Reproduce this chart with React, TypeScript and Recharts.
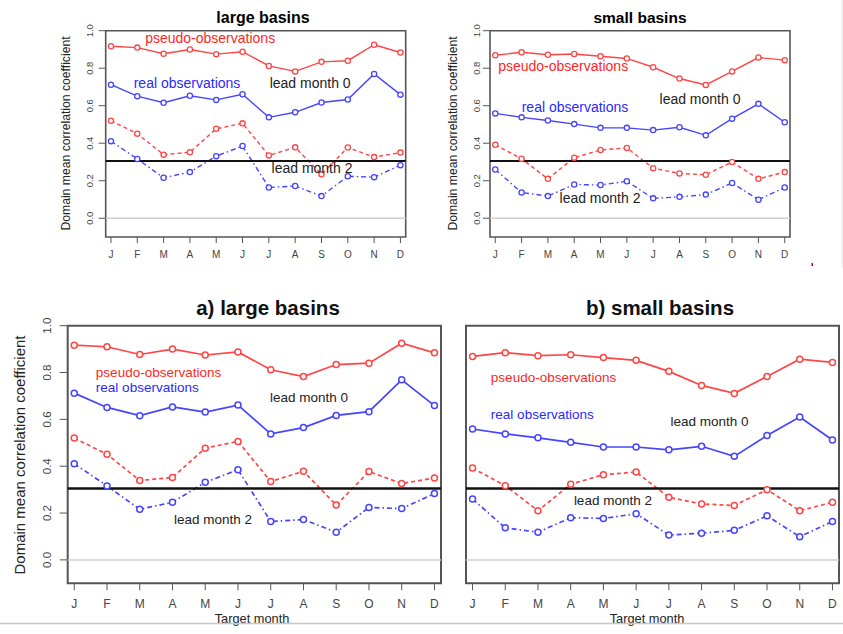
import React from "react";
import {
  LineChart,
  Line,
  XAxis,
  YAxis,
  ReferenceLine,
  ReferenceArea,
  ReferenceDot,
} from "recharts";

// ---------- data ----------
const monthLabels = ["J", "F", "M", "A", "M", "J", "J", "A", "S", "O", "N", "D"];
const monthIndex = [1, 2, 3, 4, 5, 6, 7, 8, 9, 10, 11, 12];
const yTicks = [0, 0.2, 0.4, 0.6, 0.8, 1.0];

const largePseudo0 = [0.917, 0.910, 0.877, 0.900, 0.875, 0.888, 0.812, 0.783, 0.834, 0.840, 0.925, 0.884];
const largeReal0 = [0.712, 0.651, 0.616, 0.653, 0.631, 0.661, 0.538, 0.565, 0.617, 0.633, 0.769, 0.659];
const largePseudo2 = [0.520, 0.451, 0.339, 0.352, 0.477, 0.506, 0.335, 0.378, 0.234, 0.377, 0.326, 0.350];
const largeReal2 = [0.411, 0.316, 0.216, 0.246, 0.331, 0.385, 0.164, 0.172, 0.118, 0.224, 0.219, 0.283];

const smallPseudo0 = [0.869, 0.885, 0.872, 0.876, 0.864, 0.852, 0.805, 0.745, 0.711, 0.783, 0.857, 0.843];
const smallReal0 = [0.559, 0.538, 0.521, 0.502, 0.482, 0.482, 0.470, 0.485, 0.442, 0.531, 0.610, 0.512];
const smallPseudo2 = [0.392, 0.317, 0.210, 0.323, 0.364, 0.375, 0.267, 0.239, 0.232, 0.300, 0.210, 0.246];
const smallReal2 = [0.260, 0.137, 0.118, 0.180, 0.177, 0.197, 0.106, 0.114, 0.126, 0.188, 0.099, 0.164];

const threshold = 0.305;

const buildRows = (p0: number[], r0: number[], p2: number[], r2: number[]) =>
  monthIndex.map((m, i) => ({ m, p0: p0[i], r0: r0[i], p2: p2[i], r2: r2[i] }));

const largeRows = buildRows(largePseudo0, largeReal0, largePseudo2, largeReal2);
const smallRows = buildRows(smallPseudo0, smallReal0, smallPseudo2, smallReal2);

// ---------- styles ----------
const W = 843;
const H = 634;
const AXW = 30; // reserved axis size
const RED = "#ff4545";
const BLUE = "#4545ff";
const RED_TXT = "#ff2626";
const BLUE_TXT = "#2a2aff";
const AXIS = "#555";
const FONT = "'Liberation Sans', Arial, Helvetica, sans-serif";

type Note = { text: string; x: number; y: number; color: string; anchor: "center" | "right" };

type PanelCfg = {
  rows: any[];
  box: { l: number; r: number; t: number; b: number };
  big: boolean;
  yLabels: boolean;
  yTickMargin: number;
  notes: Note[];
};

const YTick = (props: any) => {
  const { x, y, payload, fs } = props;
  return (
    <text
      x={x}
      y={y}
      transform={`rotate(-90 ${x} ${y})`}
      textAnchor="middle"
      fontSize={fs}
      fill="#444"
      fontFamily={FONT}
    >
      {Number(payload.value).toFixed(1)}
    </text>
  );
};

const Panel = ({ cfg }: { cfg: PanelCfg }) => {
  const { box, big } = cfg;
  const lw = big ? 1.7 : 1.4;
  const dotR = big ? 3 : 2.6;
  const dot = (c: string) => ({
    r: dotR,
    fill: "#fff",
    stroke: c,
    strokeWidth: big ? 1.5 : 1.3,
    strokeDasharray: "none",
  });
  const tickSize = big ? 7 : 6;
  return (
    <LineChart
      width={W}
      height={H}
      data={cfg.rows}
      margin={{ left: box.l - AXW, right: W - box.r, top: box.t, bottom: H - box.b - AXW }}
      style={{ position: "absolute", left: 0, top: 0 }}
    >
      <XAxis
        type="number"
        dataKey="m"
        domain={[0.8, 12.2]}
        ticks={monthIndex}
        interval={0}
        height={AXW}
        axisLine={false}
        tickSize={tickSize}
        tickMargin={big ? 9 : 8}
        tickLine={{ stroke: AXIS, strokeWidth: 1 }}
        tick={{ fill: "#444", fontSize: big ? 12 : 10, fontFamily: FONT }}
        tickFormatter={(v: number) => monthLabels[v - 1]}
      />
      <YAxis
        type="number"
        domain={[-0.1, 1]}
        ticks={yTicks}
        interval={0}
        width={AXW}
        axisLine={false}
        tickSize={big ? 8 : 7}
        tickMargin={cfg.yTickMargin}
        tickLine={{ stroke: AXIS, strokeWidth: 1 }}
        tick={cfg.yLabels ? <YTick fs={big ? 11.5 : 9.5} /> : false}
      />
      <ReferenceLine y={0} stroke="#cfcfcf" strokeWidth={1.5} />
      <Line type="linear" dataKey="p0" stroke={RED} strokeWidth={lw} dot={dot(RED)} activeDot={false} isAnimationActive={false} />
      <Line type="linear" dataKey="r0" stroke={BLUE} strokeWidth={lw} dot={dot(BLUE)} activeDot={false} isAnimationActive={false} />
      <Line type="linear" dataKey="p2" stroke={RED} strokeWidth={lw} strokeDasharray="4 3" dot={dot(RED)} activeDot={false} isAnimationActive={false} />
      <Line type="linear" dataKey="r2" stroke={BLUE} strokeWidth={lw} strokeDasharray="5 3 1.5 3" dot={dot(BLUE)} activeDot={false} isAnimationActive={false} />
      <ReferenceLine y={threshold} stroke="#111" strokeWidth={big ? 2.4 : 2} />
      <ReferenceArea x1={0.8} x2={12.2} y1={-0.1} y2={1} fill="none" stroke={AXIS} strokeWidth={big ? 2 : 1.6} />
      {cfg.notes.map((n, i) => (
        <ReferenceDot
          key={i}
          x={n.x}
          y={n.y}
          r={0}
          fill="none"
          stroke="none"
          label={{
            value: n.text,
            position: n.anchor,
            offset: 0,
            fill: n.color,
            fontSize: big ? 13.5 : 14,
            fontFamily: FONT,
          }}
        />
      ))}
    </LineChart>
  );
};

const panels: PanelCfg[] = [
  {
    rows: largeRows,
    box: { l: 105.7, r: 405.7, t: 30.7, b: 237 },
    big: false,
    yLabels: true,
    yTickMargin: 6,
    notes: [
      { text: "pseudo-observations", x: 4.77, y: 0.961, color: RED_TXT, anchor: "center" },
      { text: "real observations", x: 3.89, y: 0.721, color: BLUE_TXT, anchor: "center" },
      { text: "lead month 0", x: 8.57, y: 0.721, color: "#222", anchor: "center" },
      { text: "lead month 2", x: 8.64, y: 0.268, color: "#222", anchor: "center" },
    ],
  },
  {
    rows: smallRows,
    box: { l: 490, r: 790, t: 30.7, b: 237 },
    big: false,
    yLabels: true,
    yTickMargin: 3,
    notes: [
      { text: "pseudo-observations", x: 3.58, y: 0.812, color: RED_TXT, anchor: "center" },
      { text: "real observations", x: 4.03, y: 0.593, color: BLUE_TXT, anchor: "center" },
      { text: "lead month 0", x: 8.78, y: 0.636, color: "#222", anchor: "center" },
      { text: "lead month 2", x: 4.98, y: 0.108, color: "#222", anchor: "center" },
    ],
  },
  {
    rows: largeRows,
    box: { l: 67.7, r: 441, t: 325.7, b: 583.3 },
    big: true,
    yLabels: true,
    yTickMargin: 8.5,
    notes: [
      { text: "pseudo-observations", x: 1.66, y: 0.802, color: RED_TXT, anchor: "right" },
      { text: "real observations", x: 1.66, y: 0.738, color: BLUE_TXT, anchor: "right" },
      { text: "lead month 0", x: 8.17, y: 0.696, color: "#222", anchor: "center" },
      { text: "lead month 2", x: 5.24, y: 0.175, color: "#222", anchor: "center" },
    ],
  },
  {
    rows: smallRows,
    box: { l: 466, r: 839, t: 325.7, b: 583.3 },
    big: true,
    yLabels: false,
    yTickMargin: 8,
    notes: [
      { text: "pseudo-observations", x: 1.56, y: 0.781, color: RED_TXT, anchor: "right" },
      { text: "real observations", x: 1.56, y: 0.623, color: BLUE_TXT, anchor: "right" },
      { text: "lead month 0", x: 8.24, y: 0.593, color: "#222", anchor: "center" },
      { text: "lead month 2", x: 5.29, y: 0.256, color: "#222", anchor: "center" },
    ],
  },
];

const yTitle = "Domain mean correlation coefficient";

export default function App() {
  return (
    <div
      style={{
        position: "absolute",
        left: 0,
        top: 0,
        width: W,
        height: H,
        background: "#fff",
        fontFamily: FONT,
        overflow: "hidden",
      }}
    >
      {panels.map((p, i) => (
        <Panel key={i} cfg={p} />
      ))}
      <svg width={W} height={H} style={{ position: "absolute", left: 0, top: 0, pointerEvents: "none" }} fontFamily={FONT}>
        {/* titles */}
        <text x={263} y={22.5} textAnchor="middle" fontSize={16} fontWeight="bold" fill="#000">large basins</text>
        <text x={640} y={22.5} textAnchor="middle" fontSize={15.5} fontWeight="bold" fill="#000">small basins</text>
        <text x={268} y={315} textAnchor="middle" fontSize={20.5} fontWeight="bold" fill="#111">a) large basins</text>
        <text x={660} y={315} textAnchor="middle" fontSize={20.5} fontWeight="bold" fill="#111">b) small basins</text>
        {/* x titles */}
        <text x={252} y={622.5} textAnchor="middle" fontSize={12.8} fill="#222">Target month</text>
        <text x={647} y={622.5} textAnchor="middle" fontSize={12.8} fill="#222">Target month</text>
        {/* y titles */}
        <text x={70} y={133.5} transform="rotate(-90 70 133.5)" textAnchor="middle" fontSize={12.2} fill="#222">{yTitle}</text>
        <text x={456.5} y={133.5} transform="rotate(-90 456.5 133.5)" textAnchor="middle" fontSize={12.2} fill="#222">{yTitle}</text>
        <text x={24.5} y={455} transform="rotate(-90 24.5 455)" textAnchor="middle" fontSize={15} fill="#222">{yTitle}</text>
        {/* page decorations */}
        <line x1={0} y1={623.5} x2={W} y2={623.5} stroke="#c8c8c8" strokeWidth={1.5} />
        <line x1={842} y1={0} x2={842} y2={268} stroke="#e6e6e6" strokeWidth={1} />
        <rect x={811.5} y={263} width={1.5} height={3} fill="#c0002a" />
      </svg>
    </div>
  );
}
